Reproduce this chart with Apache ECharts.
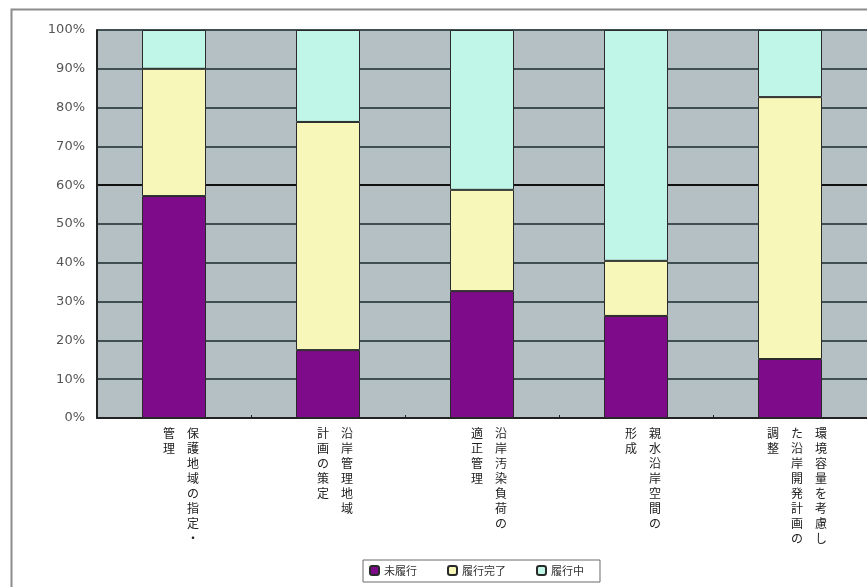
<!DOCTYPE html>
<html>
<head>
<meta charset="utf-8">
<script src="https://cdn.jsdelivr.net/npm/echarts@6/dist/echarts.min.js"></script>
<style>
  html, body { margin: 0; padding: 0; background: #ffffff; }
  #chart { width: 867px; height: 587px; }
</style>
</head>
<body>
<div id="chart"></div>
<script>
// Category names, split into the vertical text columns (read right to left)
const categoryColumns = [
  ["保護地域の指定・", "管理"],
  ["沿岸管理地域", "計画の策定"],
  ["沿岸汚染負荷の", "適正管理"],
  ["親水沿岸空間の", "形成"],
  ["環境容量を考慮し", "た沿岸開発計画の", "調整"]
];
const categories = categoryColumns.map(c => c.join(""));

// Share of each status per item (%)
const notImplemented = [57.2, 17.5, 32.7, 26.3, 15.2];   // 未履行
const completed      = [32.8, 58.8, 26.1, 14.2, 67.5];   // 履行完了
const inProgress     = [10.0, 23.7, 41.2, 59.5, 17.3];   // 履行中

const seriesNames = ["未履行", "履行完了", "履行中"];
const yTicks = [0, 10, 20, 30, 40, 50, 60, 70, 80, 90, 100];

// Turn a category into upright vertical text: one row per character,
// columns laid out from right to left.
function verticalLabel(value) {
  const idx = categories.indexOf(value);
  const cols = categoryColumns[idx].slice().reverse();
  const rows = Math.max(...cols.map(c => c.length));
  const out = [];
  for (let i = 0; i < rows; i++) {
    out.push(cols.map(c => c[i] || "\u3000").join("\u3000"));
  }
  return out.join("\n");
}

const gridColors = yTicks.map(v => (v === 60 ? "#111111" : "#3f4f52"));

const chart = echarts.init(document.getElementById("chart"), null, { renderer: "canvas" });
chart.setOption({
  animation: false,
  backgroundColor: "#ffffff",
  graphic: [{
    type: "rect",
    left: 9, top: 7,
    shape: { width: 900, height: 620 },
    style: { fill: "none", stroke: "#8c8c8c", lineWidth: 2 },
    silent: true
  }],
  grid: {
    left: 97, top: 30, width: 772, bottom: 169,
    show: true, backgroundColor: "#b4c0c3", borderWidth: 0
  },
  legend: {
    left: 363, top: 560,
    data: seriesNames,
    itemWidth: 9, itemHeight: 9, itemGap: 30,
    padding: [5, 16, 6, 6],
    borderColor: "#6a6a6a", borderWidth: 1,
    textStyle: { fontFamily: "Noto Sans CJK JP", fontSize: 11, color: "#333" }
  },
  xAxis: {
    type: "category",
    data: categories,
    axisLine: { lineStyle: { color: "#222", width: 2 } },
    axisTick: { show: true, inside: true, length: 3, lineStyle: { color: "#222" } },
    axisLabel: {
      interval: 0,
      margin: 8,
      formatter: verticalLabel,
      fontFamily: "Noto Sans CJK JP",
      fontSize: 12,
      lineHeight: 15,
      color: "#222",
      verticalAlign: "top",
      padding: [0, 0, 0, 14]
    }
  },
  yAxis: {
    type: "value",
    min: 0, max: 100, interval: 10,
    axisLine: { show: true, lineStyle: { color: "#222", width: 2 } },
    axisTick: { show: false },
    splitLine: { lineStyle: { color: gridColors, width: 2 } },
    axisLabel: {
      formatter: "{value}%",
      margin: 12,
      fontFamily: "DejaVu Sans",
      fontSize: 13,
      color: "#555"
    }
  },
  series: [
    { name: seriesNames[0], data: notImplemented, color: "#7e0c8a" },
    { name: seriesNames[1], data: completed, color: "#f6f7b8" },
    { name: seriesNames[2], data: inProgress, color: "#c0f6e7" }
  ].map(s => ({
    type: "bar",
    stack: "total",
    name: s.name,
    data: s.data,
    barWidth: 64,
    itemStyle: { color: s.color, borderColor: "#2a2a2a", borderWidth: 1 }
  }))
});
</script>
</body>
</html>
